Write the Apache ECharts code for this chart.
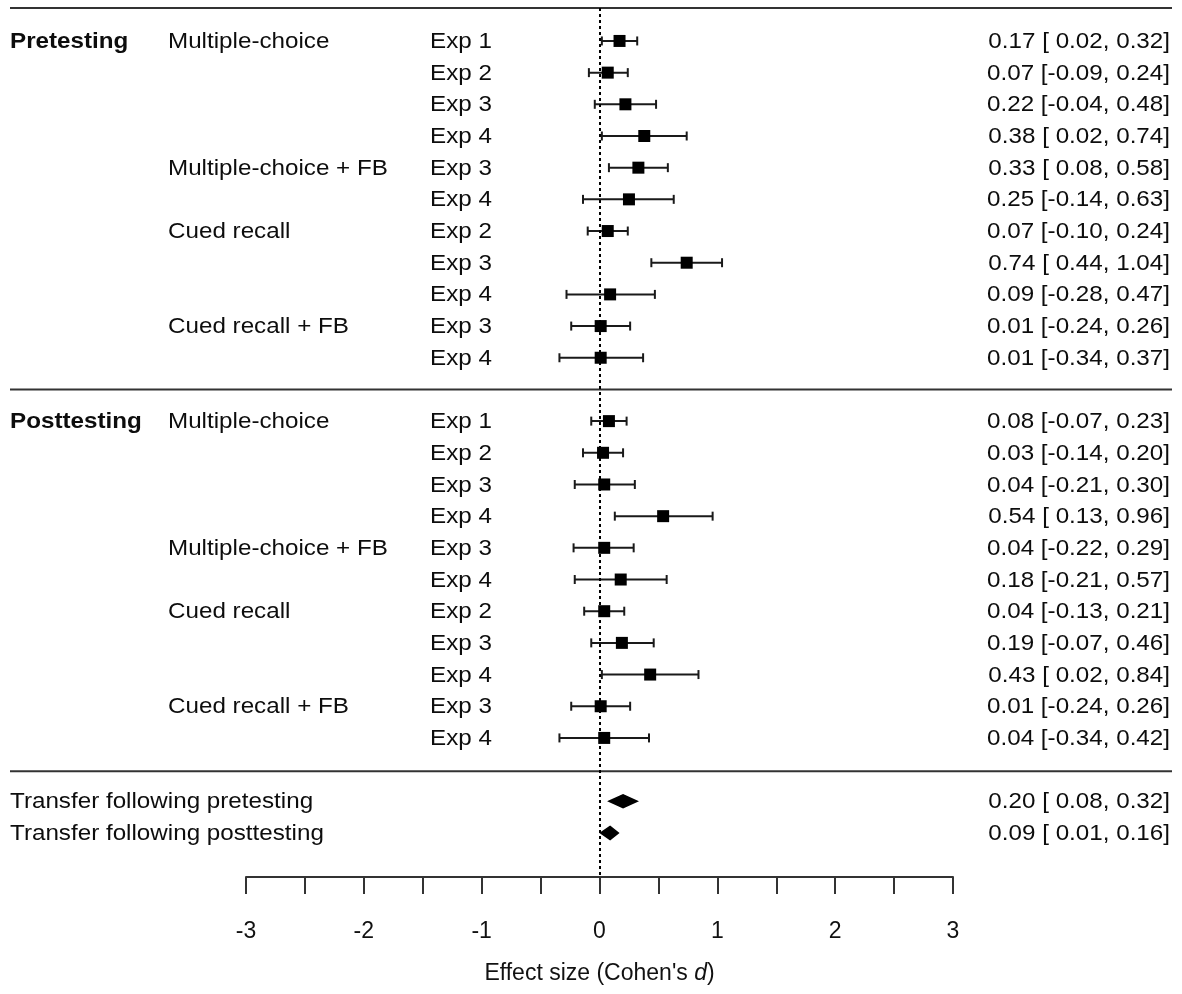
<!DOCTYPE html>
<html>
<head>
<meta charset="utf-8">
<script src="https://cdn.jsdelivr.net/npm/echarts@6/dist/echarts.min.js"></script>
<style>
  html, body { margin: 0; padding: 0; background: #fff; }
  #chart { width: 1182px; height: 994px; }
</style>
</head>
<body>
<div id="chart"></div>
<script>
// ---- data ----
const phases = ['Pretesting', 'Posttesting'];
const conditionLabels = ['Multiple-choice', '', '', '', 'Multiple-choice + FB', '', 'Cued recall', '', '', 'Cued recall + FB', ''];
const expLabels = ['Exp 1', 'Exp 2', 'Exp 3', 'Exp 4', 'Exp 3', 'Exp 4', 'Exp 2', 'Exp 3', 'Exp 4', 'Exp 3', 'Exp 4'];

const preEst  = [0.17, 0.07, 0.22, 0.38, 0.33, 0.25, 0.07, 0.74, 0.09, 0.01, 0.01];
const preLow  = [0.02, -0.09, -0.04, 0.02, 0.08, -0.14, -0.10, 0.44, -0.28, -0.24, -0.34];
const preHigh = [0.32, 0.24, 0.48, 0.74, 0.58, 0.63, 0.24, 1.04, 0.47, 0.26, 0.37];

const postEst  = [0.08, 0.03, 0.04, 0.54, 0.04, 0.18, 0.04, 0.19, 0.43, 0.01, 0.04];
const postLow  = [-0.07, -0.14, -0.21, 0.13, -0.22, -0.21, -0.13, -0.07, 0.02, -0.24, -0.34];
const postHigh = [0.23, 0.20, 0.30, 0.96, 0.29, 0.57, 0.21, 0.46, 0.84, 0.26, 0.42];

const summaryLabels = ['Transfer following pretesting', 'Transfer following posttesting'];
const summaryEst  = [0.20, 0.09];
const summaryLow  = [0.08, 0.01];
const summaryHigh = [0.32, 0.16];

const xTicks = [-3, -2, -1, 0, 1, 2, 3];

// ---- build rows ----
const FONT = "'Liberation Sans', Arial, Helvetica, sans-serif";
const rowsPerBlock = 12;
const studyRows = [];   // [est, low, high, row]
const textRows = [];    // [row, text, column]
const phaseData = [[preEst, preLow, preHigh], [postEst, postLow, postHigh]];

function fmtCI(e, l, h) {
  const pl = (l < 0 ? '' : ' ') + l.toFixed(2);
  return e.toFixed(2) + ' [' + pl + ', ' + h.toFixed(2) + ']';
}

phases.forEach((ph, p) => {
  const [est, low, high] = phaseData[p];
  textRows.push([p * rowsPerBlock, ph, 'phase']);
  expLabels.forEach((exp, i) => {
    const r = p * rowsPerBlock + i;
    studyRows.push([est[i], low[i], high[i], r]);
    if (conditionLabels[i]) textRows.push([r, conditionLabels[i], 'cond']);
    textRows.push([r, exp, 'exp']);
    textRows.push([r, fmtCI(est[i], low[i], high[i]), 'value']);
  });
});

const summaryRows = summaryLabels.map((lab, i) => {
  const r = 2 * rowsPerBlock + i;
  textRows.push([r, lab, 'summary']);
  textRows.push([r, fmtCI(summaryEst[i], summaryLow[i], summaryHigh[i]), 'value']);
  return [summaryEst[i], summaryLow[i], summaryHigh[i], r];
});

const separatorRows = [-1.04, rowsPerBlock - 1, 2 * rowsPerBlock - 0.95];

// ---- chart ----
const chart = echarts.init(document.getElementById('chart'), null, { renderer: 'canvas' });

const option = {
  backgroundColor: '#ffffff',
  animation: false,
  grid: { left: 246, right: 229, top: 8, bottom: 117, containLabel: false },
  xAxis: {
    type: 'value',
    min: -3, max: 3, interval: 0.5,
    splitLine: { show: false },
    axisLine: { show: true, onZero: false, lineStyle: { color: '#333', width: 2 } },
    axisTick: { show: true, length: 17, inside: false, lineStyle: { color: '#333', width: 2 } },
    axisLabel: {
      margin: 43,
      color: '#111',
      fontFamily: FONT,
      fontSize: 23,
      formatter: v => (Math.abs(v % 1) < 1e-9 ? String(v) : '')
    },
    name: "Effect size (Cohen's {i|d})",
    nameLocation: 'middle',
    nameGap: 85,
    nameTextStyle: {
      color: '#111', fontFamily: FONT, fontSize: 23,
      rich: { i: { fontStyle: 'italic', fontFamily: FONT, fontSize: 23, color: '#111' } }
    }
  },
  yAxis: {
    type: 'value', inverse: true, min: -1.04, max: 26.39, show: false
  },
  series: [
    // separators
    {
      type: 'custom',
      silent: true,
      clip: false,
      data: separatorRows.map(r => [0, r]),
      encode: { x: 0, y: 1 },
      renderItem: (params, api) => {
        const y = api.coord([0, api.value(1)])[1];
        return {
          type: 'line',
          shape: { x1: 10, y1: y, x2: api.getWidth() - 10, y2: y },
          style: { stroke: '#333', lineWidth: 2 }
        };
      }
    },
    // study CIs + squares
    {
      type: 'custom',
      silent: true,
      clip: false,
      data: studyRows,
      encode: { x: [0, 1, 2], y: 3 },
      renderItem: (params, api) => {
        const r = api.value(3);
        const c = api.coord([api.value(0), r]);
        const a = api.coord([api.value(1), r]);
        const b = api.coord([api.value(2), r]);
        const cap = 4.5;
        const s = 12;
        const ls = { stroke: '#1a1a1a', lineWidth: 2 };
        return {
          type: 'group',
          children: [
            { type: 'line', shape: { x1: a[0], y1: c[1], x2: b[0], y2: c[1] }, style: ls },
            { type: 'line', shape: { x1: a[0], y1: c[1] - cap, x2: a[0], y2: c[1] + cap }, style: ls },
            { type: 'line', shape: { x1: b[0], y1: c[1] - cap, x2: b[0], y2: c[1] + cap }, style: ls },
            { type: 'rect', shape: { x: c[0] - s / 2, y: c[1] - s / 2, width: s, height: s }, style: { fill: '#000' } }
          ]
        };
      },
      markLine: {
        silent: true,
        symbol: ['none', 'none'],
        label: { show: false },
        lineStyle: { color: '#000', width: 2, type: [3, 3] },
        data: [{ xAxis: 0 }]
      }
    },
    // summary diamonds
    {
      type: 'custom',
      silent: true,
      clip: false,
      data: summaryRows,
      encode: { x: [0, 1, 2], y: 3 },
      renderItem: (params, api) => {
        const r = api.value(3);
        const c = api.coord([api.value(0), r]);
        const a = api.coord([api.value(1), r]);
        const b = api.coord([api.value(2), r]);
        const h = 6.5;
        return {
          type: 'polygon',
          shape: { points: [[a[0], c[1]], [c[0], c[1] - h], [b[0], c[1]], [c[0], c[1] + h]] },
          style: { fill: '#000', stroke: '#000', lineWidth: 1.5 }
        };
      }
    },
    // texts
    {
      type: 'custom',
      silent: true,
      clip: false,
      data: textRows.map(t => [0, t[0]]),
      encode: { x: 0, y: 1 },
      renderItem: (params, api) => {
        const item = textRows[params.dataIndex];
        const y = api.coord([0, item[0]])[1];
        const col = item[2];
        let x = 10, align = 'left', bold = false;
        if (col === 'phase') { x = 10; bold = true; }
        else if (col === 'cond') { x = 168; }
        else if (col === 'exp') { x = 430; }
        else if (col === 'summary') { x = 10; }
        else if (col === 'value') { x = api.getWidth() - 12; align = 'right'; }
        return {
          type: 'text',
          x: x, y: y + 1,
          scaleX: 1.1,
          style: {
            x: 0, y: 0,
            text: item[1],
            fill: '#0d0d0d',
            font: (bold ? 'bold ' : '') + '22px ' + FONT,
            align: align,
            verticalAlign: 'middle'
          }
        };
      }
    }
  ]
};

chart.setOption(option);
</script>
</body>
</html>
